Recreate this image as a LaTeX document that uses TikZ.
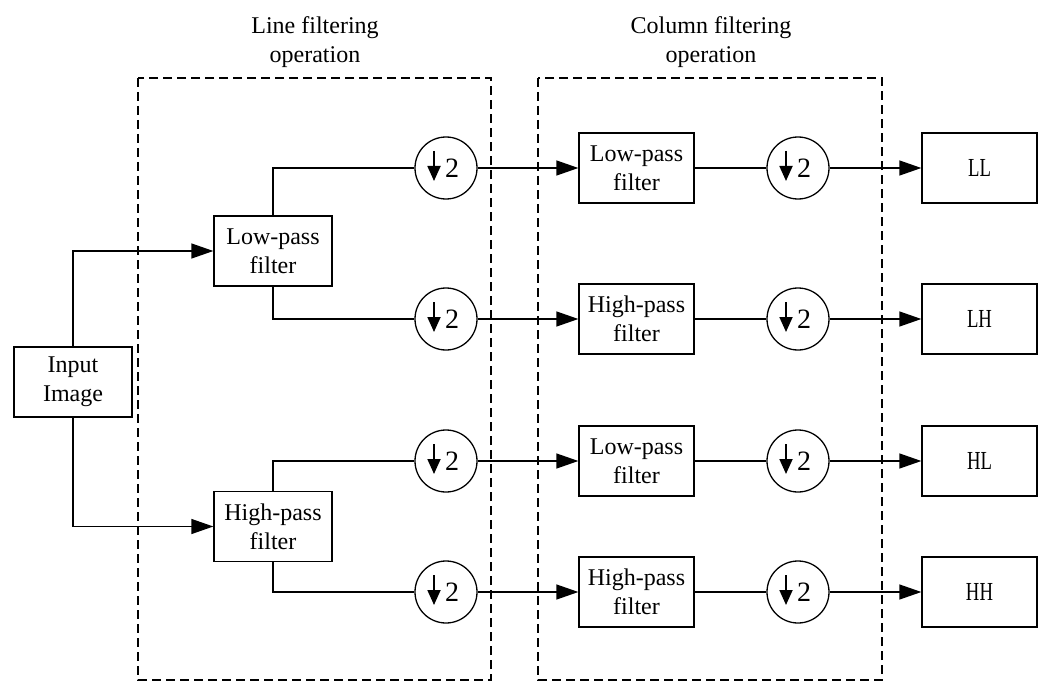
\documentclass[tikz,border=0pt]{standalone}
\usepackage{fontspec}
\usepackage{graphicx}
\setmainfont{Liberation Serif}
\usetikzlibrary{arrows.meta,calc}
\begin{document}
\begin{tikzpicture}[x=1pt,y=-1pt,
  every node/.style={font=\fontsize{24}{29}\selectfont},
  line/.style={line width=1.3pt},
  arr/.style={line width=1.3pt, -{Triangle[length=22pt,width=15pt]}},
  box/.style={draw, line width=1.3pt, minimum width=118pt, minimum height=70pt, align=center, inner sep=0pt},
  cbox/.style={box, minimum width=115pt},
  outbox/.style={draw, line width=1.3pt, minimum width=115pt, minimum height=70pt, inner sep=0pt, font=\fontsize{26}{30}\selectfont},
  down/.style={draw, circle, line width=1.3pt, minimum size=62pt, inner sep=0pt, font=\fontsize{28}{30}\selectfont},
  dtip/.style={line width=1.8pt, -{Triangle[length=15pt,width=13pt]}},
  group/.style={draw, line width=1.3pt, dash pattern=on 9pt off 5pt},
  title/.style={align=center}
]
\useasboundingbox (0,0) rectangle (1055,682);
% dashed groups
\draw[group] (138,78) rectangle (491,680);
\draw[group] (538,78) rectangle (882,680);
\node[title] (t1) at (315,42) {Line filtering\\operation};
\node[title] (t2) at (711,42) {Column filtering\\operation};
% nodes
\node[box] (in) at (73,382) {Input\\Image};
\node[box] (lp) at (273,251) {Low-pass\\filter};
\node[box] (hp) at (273,526.5) {High-pass\\filter};
\foreach \i/\y/\f/\o in {1/168/Low/LL,2/319/High/LH,3/461/Low/HL,4/592/High/HH}{
  \node[down] (d\i) at (446,\y) {\hspace{12pt}2};
  \node[cbox] (f\i) at (636.5,\y) {\f-pass\\filter};
  \node[down] (e\i) at (798,\y) {\hspace{12pt}2};
  \node[outbox] (o\i) at (979.5,\y) {\scalebox{0.72}[1]{\o}};
  \draw[dtip] ($(d\i.center)+(-12,-17)$) -- ($(d\i.center)+(-12,13)$);
  \draw[dtip] ($(e\i.center)+(-12,-17)$) -- ($(e\i.center)+(-12,13)$);
  \draw[arr] (d\i.east) -- (f\i.west);
  \draw[line] (f\i.east) -- (e\i.west);
  \draw[arr] (e\i.east) -- (o\i.west);
}
% connectors
\draw[arr] (in.north) |- (lp.west);
\draw[arr] (in.south) |- (hp.west);
\draw[line] (lp.north) |- (d1.west);
\draw[line] (lp.south) |- (d2.west);
\draw[line] (hp.north) |- (d3.west);
\draw[line] (hp.south) |- (d4.west);
\end{tikzpicture}
\end{document}
